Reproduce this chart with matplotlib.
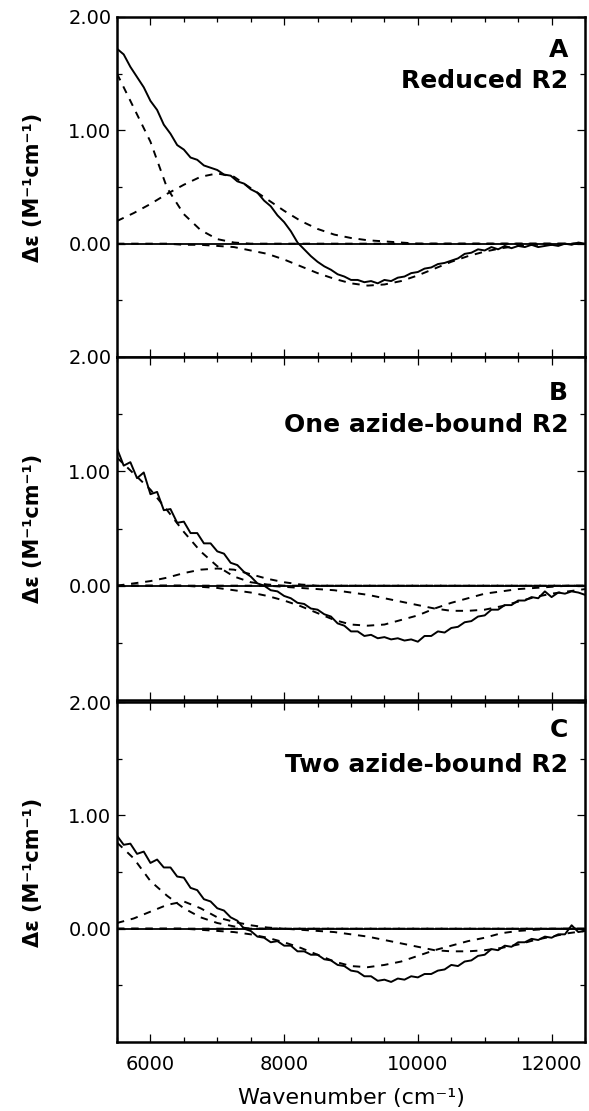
import numpy as np
import matplotlib
matplotlib.use("Agg")
import matplotlib.pyplot as plt
from matplotlib.ticker import MultipleLocator, FixedLocator

plt.rcParams["font.family"] = "DejaVu Sans"

# measured spectrum grid (cm-1) and fitted-band grid
wavenumber = np.arange(5500, 12501, 100)
band_wavenumber = np.arange(5500, 12501, 250)

# panel A: reduced R2
spec_a = [
    1.72, 1.67, 1.56, 1.47, 1.38, 1.26, 1.18, 1.05, 0.97, 0.87,
    0.83, 0.76, 0.74, 0.69, 0.67, 0.65, 0.61, 0.60, 0.55, 0.53,
    0.48, 0.45, 0.38, 0.33, 0.25, 0.19, 0.11, 0.01, -0.05, -0.11,
    -0.16, -0.20, -0.23, -0.27, -0.29, -0.32, -0.32, -0.34, -0.33, -0.35,
    -0.32, -0.33, -0.30, -0.29, -0.26, -0.25, -0.22, -0.21, -0.18, -0.17,
    -0.15, -0.13, -0.09, -0.08, -0.05, -0.06, -0.03, -0.05, -0.02, -0.04,
    -0.02, -0.03, -0.01, -0.03, -0.02, -0.01, -0.02, 0.00, -0.01, 0.01,
    0.00,
]
bands_a = [
    [1.50, 1.20, 0.90, 0.49, 0.26, 0.12, 0.04, 0.01, 0.00, 0.00,
     0.00, 0.00, 0.00, 0.00, 0.00, 0.00, 0.00, 0.00, 0.00, 0.00,
     0.00, 0.00, 0.00, 0.00, 0.00, 0.00, 0.00, 0.00, 0.00],
    [0.20, 0.27, 0.35, 0.44, 0.52, 0.59, 0.62, 0.59, 0.49, 0.39,
     0.29, 0.20, 0.13, 0.08, 0.05, 0.03, 0.02, 0.01, 0.00, 0.00,
     0.00, 0.00, 0.00, 0.00, 0.00, 0.00, 0.00, 0.00, 0.00],
    [0.00, 0.00, 0.00, 0.00, -0.01, -0.01, -0.02, -0.03, -0.06, -0.09,
     -0.14, -0.20, -0.26, -0.31, -0.35, -0.37, -0.36, -0.33, -0.28, -0.22,
     -0.16, -0.11, -0.07, -0.04, -0.02, -0.01, -0.01, 0.00, 0.00],
]

# panel B: one azide-bound R2
spec_b = [
    1.20, 1.05, 1.08, 0.94, 0.99, 0.80, 0.82, 0.66, 0.67, 0.55,
    0.56, 0.46, 0.46, 0.37, 0.37, 0.30, 0.28, 0.20, 0.18, 0.12,
    0.08, 0.02, 0.00, -0.04, -0.05, -0.09, -0.11, -0.15, -0.16, -0.20,
    -0.21, -0.25, -0.27, -0.33, -0.35, -0.40, -0.40, -0.44, -0.43, -0.46,
    -0.45, -0.47, -0.46, -0.48, -0.47, -0.49, -0.44, -0.44, -0.40, -0.41,
    -0.37, -0.36, -0.32, -0.31, -0.27, -0.26, -0.21, -0.21, -0.17, -0.17,
    -0.13, -0.13, -0.10, -0.11, -0.05, -0.10, -0.06, -0.07, -0.05, -0.06,
    -0.08,
]
bands_b = [
    [1.12, 0.98, 0.84, 0.66, 0.47, 0.30, 0.17, 0.08, 0.03, 0.01,
     0.00, 0.00, 0.00, 0.00, 0.00, 0.00, 0.00, 0.00, 0.00, 0.00,
     0.00, 0.00, 0.00, 0.00, 0.00, 0.00, 0.00, 0.00, 0.00],
    [0.00, 0.02, 0.04, 0.07, 0.11, 0.14, 0.15, 0.14, 0.10, 0.06,
     0.03, 0.01, 0.00, 0.00, 0.00, 0.00, 0.00, 0.00, 0.00, 0.00,
     0.00, 0.00, 0.00, 0.00, 0.00, 0.00, 0.00, 0.00, 0.00],
    [0.00, 0.00, 0.00, 0.00, 0.00, -0.01, -0.02, -0.04, -0.06, -0.09,
     -0.13, -0.18, -0.24, -0.30, -0.34, -0.35, -0.34, -0.30, -0.26, -0.20,
     -0.15, -0.11, -0.07, -0.05, -0.03, -0.02, -0.01, 0.00, 0.00],
    [0.00, 0.00, 0.00, 0.00, 0.00, 0.00, 0.00, 0.00, 0.00, 0.00,
     -0.01, -0.02, -0.03, -0.04, -0.06, -0.08, -0.11, -0.14, -0.17, -0.20,
     -0.22, -0.22, -0.21, -0.18, -0.14, -0.10, -0.07, -0.05, -0.03],
]

# panel C: two azide-bound R2
spec_c = [
    0.82, 0.74, 0.75, 0.66, 0.68, 0.58, 0.61, 0.54, 0.54, 0.46,
    0.45, 0.36, 0.34, 0.26, 0.24, 0.18, 0.16, 0.10, 0.07, 0.00,
    -0.02, -0.07, -0.08, -0.12, -0.11, -0.15, -0.15, -0.20, -0.20, -0.23,
    -0.23, -0.27, -0.28, -0.32, -0.33, -0.37, -0.38, -0.42, -0.42, -0.46,
    -0.45, -0.47, -0.44, -0.45, -0.42, -0.43, -0.40, -0.40, -0.37, -0.36,
    -0.32, -0.33, -0.29, -0.28, -0.24, -0.23, -0.18, -0.19, -0.15, -0.16,
    -0.12, -0.12, -0.09, -0.10, -0.07, -0.08, -0.05, -0.05, 0.03, -0.03,
    -0.02,
]
bands_c = [
    [0.76, 0.62, 0.42, 0.29, 0.18, 0.10, 0.05, 0.02, 0.00, 0.00,
     0.00, 0.00, 0.00, 0.00, 0.00, 0.00, 0.00, 0.00, 0.00, 0.00,
     0.00, 0.00, 0.00, 0.00, 0.00, 0.00, 0.00, 0.00, 0.00],
    [0.05, 0.09, 0.15, 0.21, 0.24, 0.18, 0.10, 0.06, 0.03, 0.01,
     0.00, 0.00, 0.00, 0.00, 0.00, 0.00, 0.00, 0.00, 0.00, 0.00,
     0.00, 0.00, 0.00, 0.00, 0.00, 0.00, 0.00, 0.00, 0.00],
    [0.00, 0.00, 0.00, 0.00, 0.00, -0.01, -0.02, -0.03, -0.05, -0.08,
     -0.12, -0.17, -0.23, -0.29, -0.33, -0.34, -0.32, -0.29, -0.24, -0.19,
     -0.15, -0.11, -0.08, -0.04, -0.02, -0.01, 0.00, 0.00, 0.00],
    [0.00, 0.00, 0.00, 0.00, 0.00, 0.00, 0.00, 0.00, 0.00, 0.00,
     0.00, -0.01, -0.02, -0.03, -0.05, -0.07, -0.10, -0.13, -0.16, -0.19,
     -0.20, -0.20, -0.19, -0.17, -0.14, -0.10, -0.07, -0.04, -0.02],
]

panel_letters = ["A", "B", "C"]
panel_names = ["Reduced R2", "One azide-bound R2", "Two azide-bound R2"]
y_tick_values = [0.0, 1.0, 2.0]
y_tick_labels = ["0.00", "1.00", "2.00"]
x_tick_values = [6000, 8000, 10000, 12000]

W, H = 589, 1111
fig = plt.figure(figsize=(W / 100, H / 100), dpi=100)

# pixel boxes (top, bottom) for each panel
panel_px = [(17, 357), (357, 700), (702, 1042)]
# baselines of the two text lines inside each panel (pixels)
text_px = [(57, 88), (400, 432), (737, 772)]
left_px, right_px = 117, 585

spectra = [spec_a, spec_b, spec_c]
bands = [bands_a, bands_b, bands_c]

for i in range(3):
    top, bot = panel_px[i]
    ax = fig.add_axes([left_px / W, 1 - bot / H, (right_px - left_px) / W, (bot - top) / H])
    ax.axhline(0, color="black", lw=1.3, zorder=1)
    for band in bands[i]:
        ax.plot(band_wavenumber, band, color="black", lw=1.4,
                linestyle=(0, (3.8, 3.5)), zorder=2)
    ax.plot(wavenumber, spectra[i], color="black", lw=1.4, zorder=3)

    ax.set_xlim(5500, 12500)
    ax.set_ylim(-1.0, 2.0)
    ax.xaxis.set_major_locator(FixedLocator(x_tick_values))
    ax.xaxis.set_minor_locator(MultipleLocator(500))
    ax.yaxis.set_major_locator(FixedLocator(y_tick_values))
    ax.yaxis.set_minor_locator(FixedLocator([-0.5, 0.5, 1.5]))
    ax.set_yticklabels(y_tick_labels)
    ax.tick_params(which="both", direction="in", top=True, right=True, width=0.9)
    ax.tick_params(which="major", length=6)
    ax.tick_params(which="minor", length=3.5)
    ax.tick_params(axis="y", labelsize=14, pad=4)
    ax.tick_params(axis="x", labelsize=14, pad=9)
    if i < 2:
        ax.tick_params(axis="x", labelbottom=False)
    for sp in ax.spines.values():
        sp.set_linewidth(1.8)

    t1, t2 = text_px[i]
    xr = (568 - left_px) / (right_px - left_px)
    ax.text(xr, (bot - t1) / (bot - top), panel_letters[i], transform=ax.transAxes,
            ha="right", va="baseline", fontsize=18, fontweight="bold")
    ax.text(xr, (bot - t2) / (bot - top), panel_names[i], transform=ax.transAxes,
            ha="right", va="baseline", fontsize=18, fontweight="bold")

    fig.text(33 / W, 1 - ((top + bot) / 2) / H, "Δε (M⁻¹cm⁻¹)", rotation=90,
             ha="center", va="center", fontsize=15, fontweight="bold")

fig.text((left_px + right_px) / 2 / W, 1 - 1104 / H, "Wavenumber (cm⁻¹)",
         ha="center", va="baseline", fontsize=16)

fig.savefig("out.png", dpi=100)
